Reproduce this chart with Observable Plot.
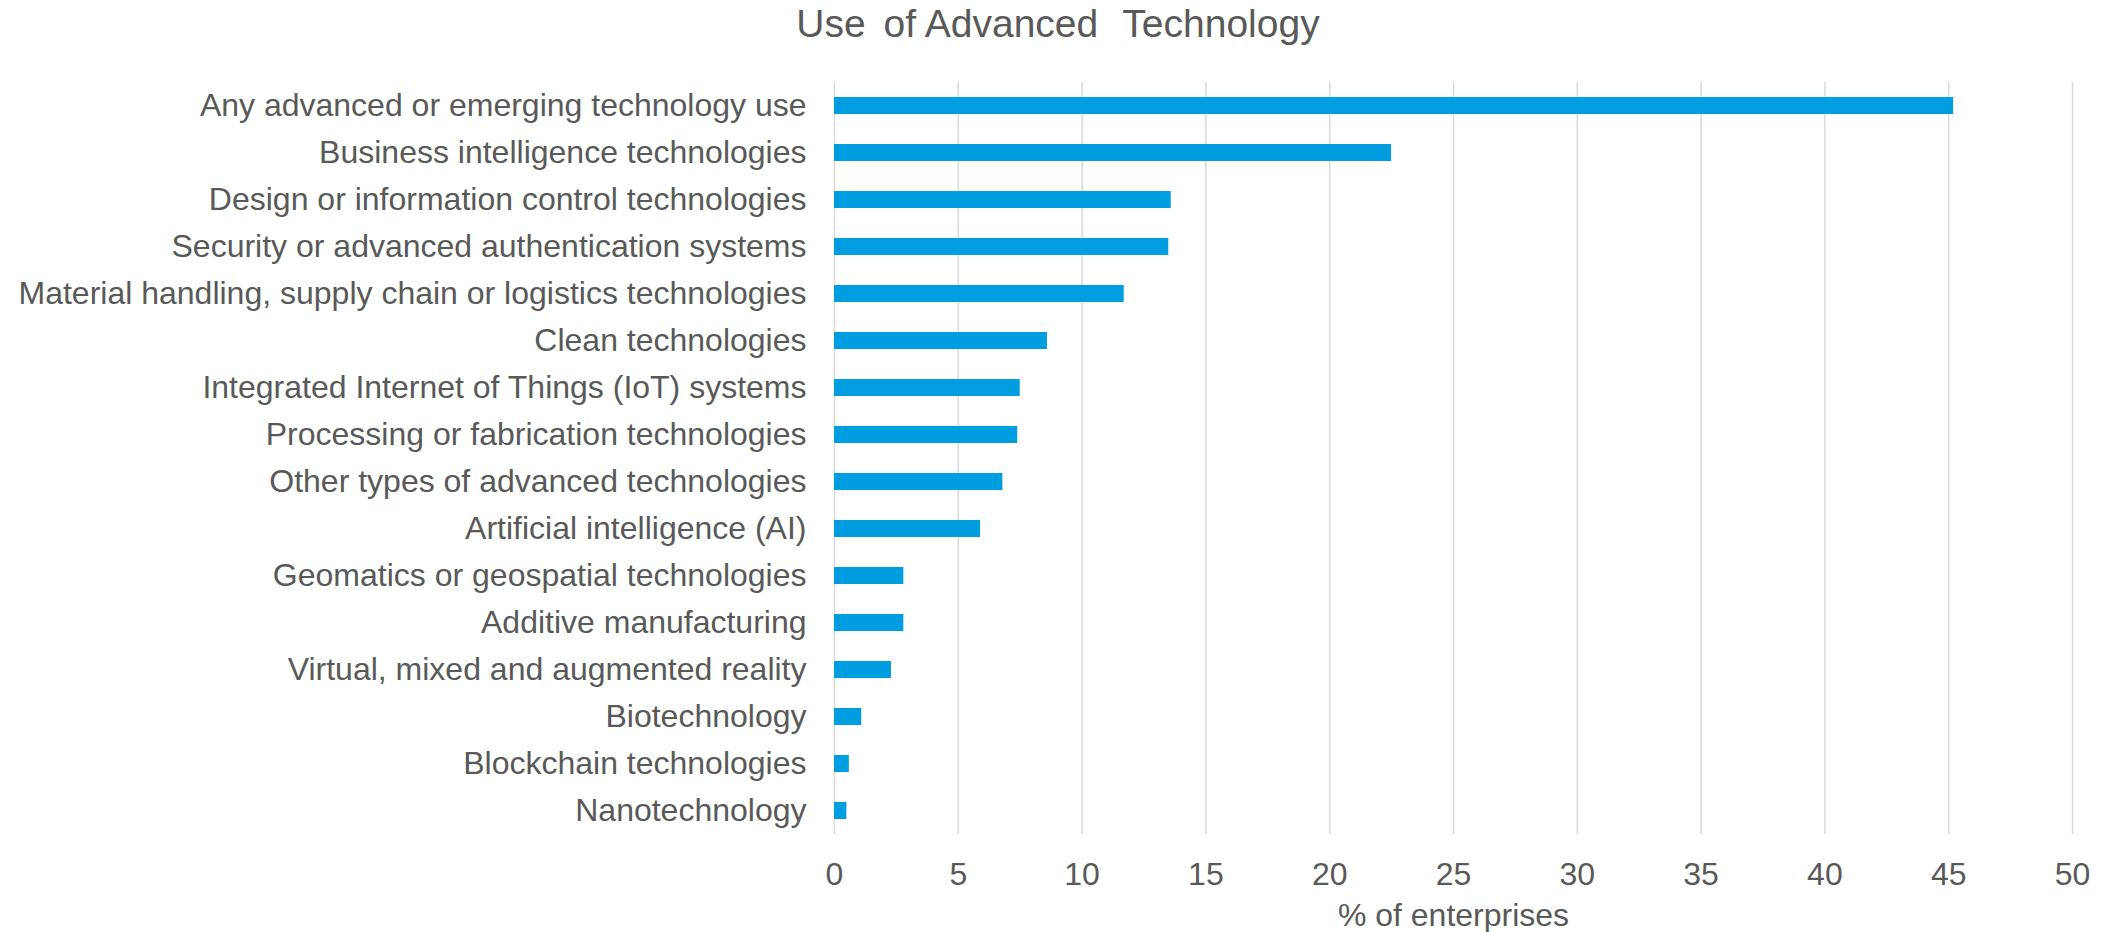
<!DOCTYPE html>
<html>
<head>
<meta charset="utf-8">
<script src="https://cdn.jsdelivr.net/npm/d3@7"></script>
<script src="https://cdn.jsdelivr.net/npm/@observablehq/plot@0.6"></script>
<style>
  html, body { margin: 0; padding: 0; background: #ffffff; overflow: hidden; }
  #wrap { width: 2116px; height: 932px; position: relative; background: #ffffff; }
  #title { height: 62px; position: relative; }
  #title div {
    position: absolute; left: 0; top: 4px; width: 2116px; text-align: center;
    font-family: "Liberation Sans", Arial, sans-serif; font-size: 39px; line-height: 1;
    color: #595959; white-space: pre;
  }
  svg { display: block; }
</style>
</head>
<body>
<div id="wrap">
  <div id="title"><div>Use<span style="margin-left:7px"> </span>of Advanced<span style="margin-left:14px"> </span>Technology</div></div>
  <div id="chart"></div>
</div>
<script>
const categories = [
  "Any advanced or emerging technology use",
  "Business intelligence technologies",
  "Design or information control technologies",
  "Security or advanced authentication systems",
  "Material handling, supply chain or logistics technologies",
  "Clean technologies",
  "Integrated Internet of Things (IoT) systems",
  "Processing or fabrication technologies",
  "Other types of advanced technologies",
  "Artificial intelligence (AI)",
  "Geomatics or geospatial technologies",
  "Additive manufacturing",
  "Virtual, mixed and augmented reality",
  "Biotechnology",
  "Blockchain technologies",
  "Nanotechnology"
];
const values = [45.2, 22.5, 13.6, 13.5, 11.7, 8.6, 7.5, 7.4, 6.8, 5.9, 2.8, 2.8, 2.3, 1.1, 0.6, 0.5];
const xTicks = [0, 5, 10, 15, 20, 25, 30, 35, 40, 45, 50];
const xLabel = "% of enterprises";

const data = categories.map((c, i) => ({category: c, value: values[i]}));
const font = '"Liberation Sans", Arial, sans-serif';
const textColor = "#595959";

const chart = Plot.plot({
  width: 2116,
  height: 870,
  marginTop: 20,
  marginBottom: 98,
  marginLeft: 834,
  marginRight: 44,
  style: {fontFamily: font, fontSize: "32px", color: textColor, background: "#ffffff"},
  x: {domain: [0, 50], ticks: xTicks, label: null},
  y: {domain: categories, paddingInner: 0.63, paddingOuter: 0.315, label: null},
  marks: [
    Plot.gridX(xTicks, {stroke: "#d9d9d9", strokeOpacity: 1, strokeWidth: 1.5}),
    Plot.barX(data, {x: "value", y: "category", fill: "#009EE0"}),
    Plot.axisX({ticks: xTicks, tickSize: 0, tickPadding: 28, label: null, fontSize: 32}),
    Plot.axisY({tickSize: 0, tickPadding: 28, label: null, fontSize: 32}),
    Plot.text([xLabel], {text: d => d, frameAnchor: "bottom", lineAnchor: "middle", dy: 81, fontSize: 32, fill: textColor})
  ]
});
document.getElementById("chart").appendChild(chart);
</script>
</body>
</html>
